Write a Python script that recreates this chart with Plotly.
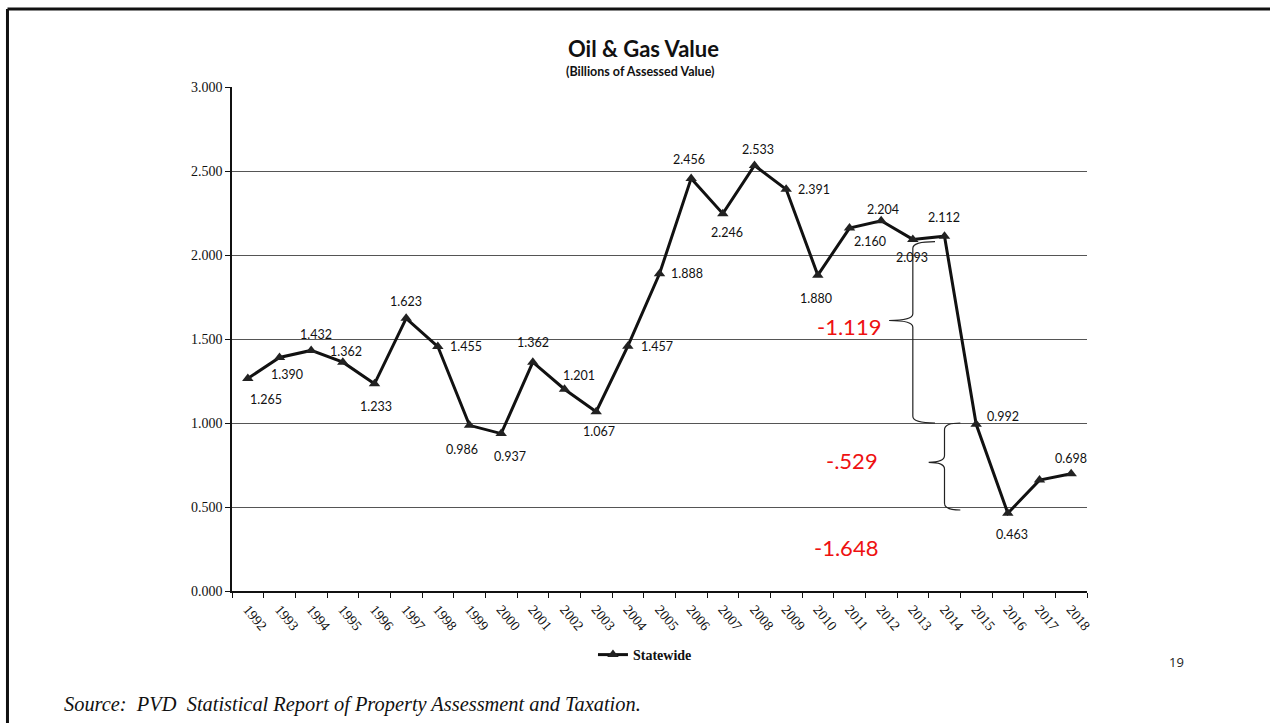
import plotly.graph_objects as go

years = list(range(1992, 2019))
values = [1.265, 1.390, 1.432, 1.362, 1.233, 1.623, 1.455, 0.986, 0.937, 1.362,
          1.201, 1.067, 1.457, 1.888, 2.456, 2.246, 2.533, 2.391, 1.880, 2.160,
          2.204, 2.093, 2.112, 0.992, 0.463, 0.660, 0.698]
unlabeled_years = [2017]
# label offsets (dx, dy) in pixels from each point (style, not data)
label_offsets = [(18, 21), (7, 17), (5, -16), (3, -11), (1, 23), (0, -17), (28, 0), (-8, 24),
                 (9, 23), (0, -20), (14, -14), (3, 20), (29, 0), (27, 0), (-2, -19), (4, 19),
                 (3, -16), (28, 0), (-2, 23), (20, 13), (2, -11), (-1, 18), (-1, -19), (27, -8),
                 (4, 21), (0, 0), (0, -15)]

title_text = "Oil & Gas Value"
subtitle_text = "(Billions of Assessed Value)"
series_name = "Statewide"
source_text = "Source:  PVD  Statistical Report of Property Assessment and Taxation."
page_number = "19"
change_labels = ["-1.119", "-.529", "-1.648"]

fig = go.Figure()
fig.add_trace(go.Scatter(
    x=years, y=values, name=series_name,
    mode="lines+markers",
    line=dict(color="#111111", width=3),
    marker=dict(symbol="triangle-up", size=10, color="#222222"),
))

annotations = []
for yr, v, (dx, dy) in zip(years, values, label_offsets):
    if yr in unlabeled_years:
        continue
    annotations.append(dict(text=f"{v:.3f}", x=yr, y=v, xref="x", yref="y", showarrow=False,
                            xshift=dx, yshift=-dy, xanchor="center", yanchor="middle",
                            font=dict(family="Lato", size=12.5, color="#111111")))

annotations += [
    dict(text=f"<b>{title_text}</b>", x=0.4815, y=1.0754, xref="paper", yref="paper",
         showarrow=False, font=dict(family="Lato", size=22, color="#111111"), xanchor="center", yanchor="middle"),
    dict(text=f"<b>{subtitle_text}</b>", x=0.478, y=1.0298, xref="paper", yref="paper",
         showarrow=False, font=dict(family="Lato", size=12.5, color="#111111"), xanchor="center", yanchor="middle"),
    dict(text=f"<i>{source_text}</i>", x=-0.199, y=-0.226, xref="paper", yref="paper",
         showarrow=False, font=dict(family="Liberation Serif", size=20.4, color="#111111"), xanchor="left", yanchor="middle"),
    dict(text=page_number, x=1.105, y=-0.14, xref="paper", yref="paper",
         showarrow=False, font=dict(family="Open Sans", size=13, color="#222222"), xanchor="center", yanchor="middle"),
    dict(text=change_labels[0], x=2010.97, y=1.572, xref="x", yref="y", showarrow=False,
         font=dict(family="Lato", size=22, color="#ee1111"), xanchor="center", yanchor="middle"),
    dict(text=change_labels[1], x=2011.07, y=0.776, xref="x", yref="y", showarrow=False,
         font=dict(family="Lato", size=22, color="#ee1111"), xanchor="center", yanchor="middle"),
    dict(text=change_labels[2], x=2010.88, y=0.261, xref="x", yref="y", showarrow=False,
         font=dict(family="Lato", size=22, color="#ee1111"), xanchor="center", yanchor="middle"),
]


def brace(spine, top, bottom, mid, tip, end):
    cy = 0.04
    return (f"M {end},{top} Q {spine},{top} {spine},{top - cy} "
            f"L {spine},{mid + cy} Q {spine},{mid} {tip},{mid} "
            f"Q {spine},{mid} {spine},{mid - cy} "
            f"L {spine},{bottom + cy} Q {spine},{bottom} {end},{bottom}")


shapes = [
    dict(type="path", xref="x", yref="y", path=brace(2013.0, 2.08, 1.0, 1.61, 2012.25, 2013.7),
         line=dict(color="#222222", width=1.2)),
    dict(type="path", xref="x", yref="y", path=brace(2014.0, 1.0, 0.482, 0.766, 2013.5, 2014.5),
         line=dict(color="#222222", width=1.2)),
    # page frame
    dict(type="line", xref="paper", yref="paper", x0=-0.2626, x1=1.22, y0=1.1548, y1=1.1548,
         line=dict(color="#111111", width=3)),
    dict(type="line", xref="paper", yref="paper", x0=-0.2626, x1=-0.2626, y0=1.1548, y1=-0.27,
         line=dict(color="#111111", width=3)),
]

fig.update_layout(
    width=1270, height=723,
    margin=dict(l=232, r=183, t=87, b=132),
    paper_bgcolor="white", plot_bgcolor="white",
    showlegend=True,
    legend=dict(orientation="h", x=0.483, y=-0.127, xanchor="center", yanchor="middle",
                font=dict(family="Liberation Serif", size=14, color="#111111", weight="bold"),
                itemwidth=30),
    annotations=annotations,
    shapes=shapes,
)
fig.update_xaxes(
    range=[1991.5, 2018.5], tickvals=years, ticktext=[str(y) for y in years],
    tickangle=50, ticks="", showgrid=False, zeroline=False,
    showline=True, linecolor="#111111", linewidth=1.5,
    tickfont=dict(family="Liberation Serif", size=14, color="#111111"),
    minor=dict(tickvals=[y - 0.5 for y in years] + [2018.5], ticks="outside", ticklen=5,
               tickcolor="#111111", tickwidth=1, showgrid=False),
    ticklabelstandoff=3,
)
fig.update_yaxes(
    range=[0, 3], dtick=0.5, tick0=0, tickformat=".3f",
    showgrid=True, gridcolor="#555555", gridwidth=1, zeroline=False,
    showline=True, linecolor="#111111", linewidth=1.5,
    ticks="outside", ticklen=5, tickcolor="#111111",
    tickfont=dict(family="Liberation Serif", size=14, color="#111111"),
)

fig.write_html("out.html", config={"displayModeBar": False},
               post_script="document.body.style.margin='0px';")
